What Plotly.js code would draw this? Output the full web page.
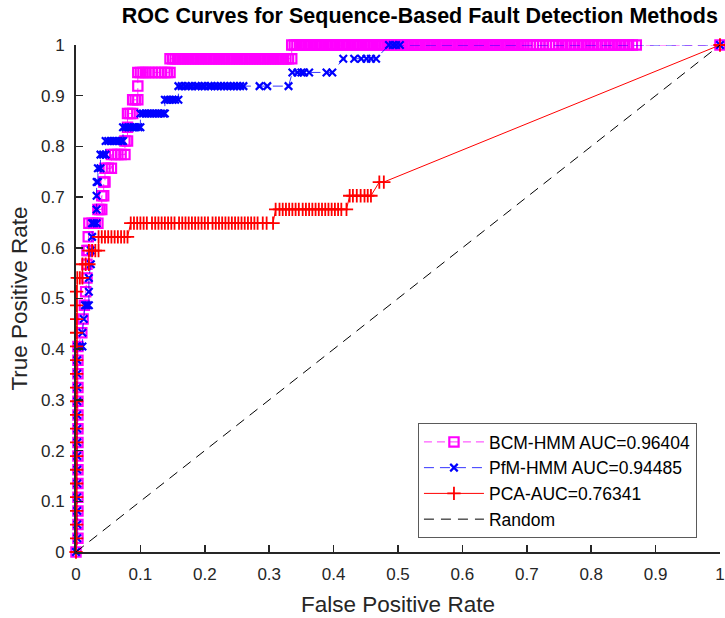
<!DOCTYPE html>
<html>
<head>
<meta charset="utf-8">
<script src="https://cdn.plot.ly/plotly-3.0.1.min.js"></script>
<style>html,body{margin:0;padding:0;background:#fff;}#chart{width:725px;height:618px;}</style>
</head>
<body>
<div id="chart"></div>
<script>
// True positive levels (steps of 1/37)
const bcmTPR = [0,0.0270,0.0541,0.0811,0.1081,0.1351,0.1622,0.1892,0.2162,0.2432,0.2703,0.2973,0.3243,0.3514,0.3784,0.4054,0.4324,0.4595,0.4865,0.5135,0.5405,0.5676,0.5946,0.6216,0.6486,0.6757,0.7027,0.7297,0.7568,0.7838,0.8108,0.8378,0.8649,0.8919,0.9189,0.9459,0.9730,1];
// False positive rates at each TPR level, BCM-HMM
const bcmFPR = [
 [0],[0.003],[0.003],[0.003],[0.003],[0.003],[0.003],[0.003],[0.003],[0.003],[0.003],[0.003],[0.003],[0.003],[0.003],[0.003],
 [0.009],[0.011],[0.013],[0.015],[0.017],[0.017],[0.017,0.019],[0.019],
 [0.02,0.025,0.03,0.034],[0.034,0.037,0.04],[0.04,0.043],[0.043,0.045],[0.045,0.05,0.055],
 [0.055,0.06,0.065,0.07,0.076],[0.076,0.08],[0.08],[0.08,0.084,0.088],[0.088,0.092,0.096],[0.096],
 [0.096,0.1,0.104,0.108,0.113,0.118,0.123,0.128,0.133,0.138,0.142,0.146],
 [0.146,0.15,0.154,0.158,0.162,0.166,0.17,0.174,0.178,0.182,0.186,0.19,0.194,0.198,0.202,0.206,0.21,0.214,0.218,0.222,0.226,0.23,0.234,0.238,0.242,0.246,0.25,0.254,0.258,0.262,0.266,0.27,0.274,0.278,0.282,0.286,0.29,0.294,0.298,0.302,0.306,0.31,0.314,0.318,0.322,0.326,0.33,0.335],
 [0.335,0.339,0.343,0.347,0.351,0.356,0.36,0.364,0.368,0.372,0.377,0.381,0.385,0.389,0.394,0.398,0.402,0.406,0.41,0.415,0.419,0.423,0.427,0.432,0.436,0.44,0.444,0.449,0.453,0.457,0.461,0.466,0.47,0.474,0.478,0.483,0.487,0.491,0.495,0.5,0.504,0.508,0.512,0.517,0.521,0.525,0.529,0.534,0.538,0.542,0.546,0.551,0.555,0.559,0.563,0.568,0.572,0.576,0.58,0.585,0.589,0.593,0.597,0.602,0.606,0.61,0.614,0.619,0.623,0.627,0.631,0.636,0.64,0.644,0.648,0.653,0.657,0.661,0.665,0.67,0.674,0.678,0.682,0.687,0.691,0.695,0.7,0.705,0.71,0.715,0.72,0.725,0.73,0.735,0.74,0.745,0.75,0.756,0.762,0.768,0.774,0.78,0.786,0.792,0.798,0.804,0.81,0.816,0.822,0.828,0.834,0.84,0.846,0.852,0.858,0.864,0.87,1]
];
const pfmTPR = bcmTPR.slice();
// PfM-HMM
const pfmFPR = [
 [0],[0.002],[0.002],[0.002],[0.002],[0.002],[0.002],[0.002],[0.002],[0.002],[0.002],[0.002],[0.002],[0.002],[0.002],
 [0.002,0.006,0.01],[0.01],[0.012],[0.014,0.017,0.02],[0.02],[0.02],[0.023],[0.023],[0.025],
 [0.025,0.028,0.032],[0.032],[0.032],[0.032,0.034],[0.034,0.038],[0.038,0.042,0.046],
 [0.046,0.05,0.054,0.058,0.062,0.066,0.07,0.073],
 [0.073,0.077,0.081,0.085,0.089,0.093,0.097,0.1],
 [0.1,0.104,0.108,0.112,0.116,0.12,0.124,0.128,0.132,0.136,0.138],
 [0.138,0.142,0.146,0.15,0.154,0.159],
 [0.159,0.164,0.17,0.175,0.18,0.186,0.19,0.195,0.2,0.206,0.21,0.215,0.22,0.225,0.23,0.235,0.24,0.245,0.25,0.255,0.26,0.285,0.297,0.33],
 [0.336,0.344,0.35,0.354,0.362,0.389,0.398],
 [0.415,0.432,0.443,0.451,0.458,0.466],
 [0.486,0.492,0.497,0.503,1]
];
// PCA
const pcaTPR = [0,0.0270,0.0541,0.0811,0.1081,0.1351,0.1622,0.1892,0.2162,0.2432,0.2703,0.2973,0.3243,0.3514,0.3784,0.4054,0.4324,0.4595,0.4865,0.5135,0.5405,0.5676,0.5946,0.6216,0.6486,0.6757,0.7027,0.7297,1];
const pcaFPR = [
 [0],[0.001],[0.001],[0.001],[0.001],[0.001],[0.001],[0.001],[0.001],[0.001],[0.001],[0.001],[0.001],[0.001],[0.001],[0.001],[0.001],[0.001],[0.001],[0.001],
 [0.002,0.006,0.01],[0.01,0.015,0.02],[0.02,0.025,0.03,0.035],
 [0.035,0.04,0.045,0.05,0.055,0.06,0.065,0.07,0.075,0.08],
 [0.085,0.09,0.095,0.1,0.105,0.11,0.118,0.123,0.128,0.133,0.138,0.143,0.148,0.153,0.16,0.165,0.17,0.175,0.18,0.185,0.19,0.195,0.2,0.205,0.212,0.217,0.222,0.227,0.232,0.237,0.242,0.247,0.252,0.257,0.262,0.267,0.272,0.277,0.282,0.29,0.296,0.306],
 [0.31,0.316,0.321,0.326,0.331,0.336,0.341,0.346,0.352,0.357,0.362,0.367,0.372,0.377,0.382,0.387,0.392,0.397,0.402,0.407,0.412,0.42],
 [0.425,0.43,0.436,0.442,0.448,0.453,0.458],
 [0.471,0.478],
 [1]
];
const randomX = [0, 1];
const randomY = [0, 1];
const seriesNames = ['BCM-HMM AUC=0.96404', 'PfM-HMM AUC=0.94485', 'PCA-AUC=0.76341', 'Random'];
const tickVals = [0,0.1,0.2,0.3,0.4,0.5,0.6,0.7,0.8,0.9,1];
const tickText = ['0','0.1','0.2','0.3','0.4','0.5','0.6','0.7','0.8','0.9','1'];
const chartTitle = 'ROC Curves for Sequence-Based Fault Detection Methods';

function flatten(levels, fprs) {
  const x = [], y = [];
  levels.forEach((t, i) => fprs[i].forEach(f => { x.push(f); y.push(t); }));
  return {x, y};
}
const bcm = flatten(bcmTPR, bcmFPR);
const pfm = flatten(pfmTPR, pfmFPR);
const pca = flatten(pcaTPR, pcaFPR);

const FONT = 'Liberation Sans, Arial, Helvetica, sans-serif';
const traces = [
  {x: bcm.x, y: bcm.y, name: seriesNames[0], type: 'scatter', mode: 'lines+markers', cliponaxis: false,
   line: {color: '#FF00FF', width: 0.8, dash: '8px,5px'},
   marker: {symbol: 'square-open', size: 9.3, color: '#FF00FF', line: {color: '#FF00FF', width: 2.2}}},
  {x: pfm.x, y: pfm.y, name: seriesNames[1], type: 'scatter', mode: 'lines+markers', cliponaxis: false,
   line: {color: '#0000FF', width: 0.8, dash: '10px,6px'},
   marker: {symbol: 'x-thin-open', size: 7.5, color: '#0000FF', line: {color: '#0000FF', width: 2.2}}},
  {x: pca.x, y: pca.y, name: seriesNames[2], type: 'scatter', mode: 'lines+markers', cliponaxis: false,
   line: {color: '#FF0000', width: 1},
   marker: {symbol: 'cross-thin-open', size: 9.5, color: '#FF0000', line: {color: '#FF0000', width: 1.8}}},
  {x: randomX, y: randomY, name: seriesNames[3], type: 'scatter', mode: 'lines', cliponaxis: false,
   line: {color: '#000000', width: 1, dash: '10px,7px'}}
];

const axisCommon = {
  range: [0, 1], tickmode: 'array', tickvals: tickVals, ticktext: tickText,
  ticks: 'inside', ticklen: 7, tickwidth: 1.5, tickcolor: '#262626',
  showline: true, linewidth: 2, linecolor: '#262626', mirror: false,
  showgrid: false, zeroline: false, automargin: false, ticklabeloverflow: 'allow',
  tickfont: {family: FONT, size: 17, color: '#262626'}
};

const layout = {
  width: 725, height: 618,
  margin: {l: 76, r: 5, t: 45, b: 66, pad: 0},
  paper_bgcolor: '#ffffff', plot_bgcolor: '#ffffff',
  font: {family: FONT, color: '#262626'},
  title: {text: '<b>' + chartTitle + '</b>', x: 0.579, xref: 'container', xanchor: 'center',
          y: 0.975, yref: 'container', yanchor: 'middle', font: {family: FONT, size: 21.5, color: '#000000'}},
  xaxis: Object.assign({}, axisCommon, {
    title: {text: 'False Positive Rate', font: {family: FONT, size: 22.5, color: '#262626'}, standoff: 13},
    ticklabelstandoff: 6
  }),
  yaxis: Object.assign({}, axisCommon, {
    title: {text: 'True Positive Rate', font: {family: FONT, size: 22.5, color: '#262626'}, standoff: 7},
    ticklabelstandoff: 6
  }),
  showlegend: true,
  legend: {x: 0.5310, y: 0.2544, xanchor: 'left', yanchor: 'top', bgcolor: '#ffffff',
           bordercolor: '#5a5a5a', borderwidth: 1, itemwidth: 60, tracegroupgap: 0,
           font: {family: FONT, size: 17.5, color: '#000000'}}
};

Plotly.newPlot('chart', traces, layout, {displayModeBar: false, staticPlot: true});
</script>
</body>
</html>
